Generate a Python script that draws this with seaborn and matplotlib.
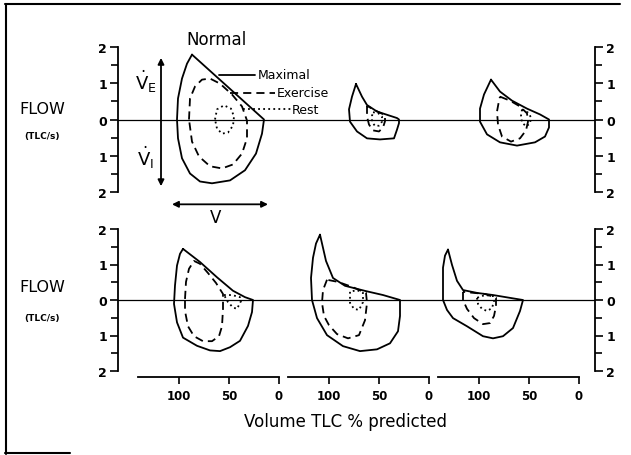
import numpy as np
import matplotlib
matplotlib.use("Agg")
import matplotlib.pyplot as plt
import seaborn as sns
from matplotlib.lines import Line2D

# ---------------- data (volume in % predicted TLC, flow in TLC/s) ----------------
y_ticks = [-2, -1, 0, 1, 2]
y_tick_labels = ["2", "1", "0", "1", "2"]
x_ticks = [100, 50, 0]
x_tick_labels = ["100", "50", "0"]
panel_offsets = [0, 150, 300]

# top row, panel 1 (Normal)
top0_max_vol = [87, 15, 17, 23, 34, 49, 67, 79, 89, 97, 101, 102, 101, 97, 92, 87]
top0_max_flow = [1.79, 0, -0.39, -0.94, -1.40, -1.68, -1.76, -1.71, -1.49, -1.07, -0.52, 0, 0.58, 1.13, 1.54, 1.79]
top0_ex_vol = [90, 89, 84, 77, 69, 59, 47, 37, 32, 32, 37, 46, 57, 69, 80, 87, 90]
top0_ex_flow = [0, 0.58, 0.91, 1.10, 1.13, 0.99, 0.69, 0.36, -0.03, -0.52, -0.94, -1.24, -1.35, -1.29, -1.02, -0.61, 0]
top0_rest_vol = [64, 62, 55, 48, 45, 46, 51, 57, 62, 64]
top0_rest_flow = [0, 0.28, 0.39, 0.30, 0.08, -0.17, -0.36, -0.39, -0.25, 0]

# top row, panel 2
top1_max_vol = [73, 67, 62, 52, 42, 32, 30, 30, 32, 35, 49, 62, 72, 79, 80, 77, 73]
top1_max_flow = [0.98, 0.63, 0.40, 0.22, 0.13, 0.04, 0, -0.10, -0.28, -0.52, -0.55, -0.52, -0.33, -0.06, 0.28, 0.63, 0.98]
top1_ex_vol = [62, 62, 60, 56, 50, 46, 44, 44, 50, 56, 62]
top1_ex_flow = [0.38, 0.08, -0.14, -0.30, -0.33, -0.22, -0.05, 0.12, 0.20, 0.28, 0.38]
top1_rest_vol = [56, 51, 47, 47, 50, 54, 57, 57, 56]
top1_rest_flow = [0.20, 0.18, 0.08, -0.06, -0.17, -0.18, -0.06, 0.10, 0.20]

# top row, panel 3
top2_max_vol = [88, 79, 67, 52, 39, 30, 30, 34, 44, 62, 79, 92, 99, 99, 95, 88]
top2_max_flow = [1.10, 0.77, 0.52, 0.30, 0.14, 0, -0.22, -0.47, -0.63, -0.72, -0.63, -0.41, -0.06, 0.30, 0.69, 1.10]
top2_ex_vol = [79, 69, 59, 52, 51, 53, 59, 68, 77, 81, 82, 80, 79]
top2_ex_flow = [0.63, 0.52, 0.36, 0.17, -0.06, -0.30, -0.52, -0.61, -0.47, -0.14, 0.22, 0.52, 0.63]
top2_rest_vol = [57, 51, 48, 49, 53, 57, 58, 57]
top2_rest_flow = [0.28, 0.19, 0.06, -0.11, -0.19, -0.08, 0.11, 0.28]

# bottom row, panel 1
bot0_max_vol = [96, 79, 62, 46, 34, 26, 27, 31, 39, 49, 59, 69, 82, 96, 102, 105, 104, 102, 99, 96]
bot0_max_flow = [1.44, 1.07, 0.64, 0.26, 0.08, 0, -0.34, -0.73, -1.15, -1.33, -1.44, -1.42, -1.29, -1.06, -0.63, -0.11, 0.41, 0.97, 1.30, 1.44]
bot0_ex_vol = [94, 93, 90, 85, 79, 71, 63, 56, 56, 57, 60, 67, 76, 85, 91, 94, 94]
bot0_ex_flow = [0.03, 0.51, 0.88, 1.10, 1.02, 0.76, 0.48, 0.17, -0.25, -0.74, -1.02, -1.16, -1.16, -1.02, -0.74, -0.31, 0.03]
bot0_rest_vol = [55, 47, 39, 38, 42, 46, 51, 55]
bot0_rest_flow = [0.14, 0.14, 0.08, -0.03, -0.25, -0.21, -0.06, 0.14]

# bottom row, panel 2
bot1_max_vol = [109, 106, 103, 96, 84, 63, 46, 29, 29, 31, 39, 52, 69, 86, 102, 112, 117, 118, 116, 113, 109]
bot1_max_flow = [1.84, 1.47, 1.10, 0.62, 0.40, 0.25, 0.14, 0, -0.45, -0.88, -1.22, -1.39, -1.44, -1.30, -0.99, -0.51, 0, 0.62, 1.19, 1.59, 1.84]
bot1_ex_vol = [102, 106, 107, 105, 100, 92, 81, 70, 64, 62, 63, 77, 91, 102]
bot1_ex_flow = [0.57, 0.28, -0.08, -0.45, -0.71, -0.96, -1.08, -0.99, -0.57, -0.08, 0.20, 0.37, 0.51, 0.57]
bot1_rest_vol = [79, 79, 75, 70, 66, 66, 72, 79]
bot1_rest_flow = [0.23, -0.08, -0.25, -0.28, -0.06, 0.20, 0.28, 0.23]

# bottom row, panel 3
bot2_max_vol = [131, 127, 122, 116, 102, 86, 69, 56, 59, 66, 76, 86, 96, 112, 126, 132, 136, 136, 136, 134, 131]
bot2_max_flow = [1.42, 0.99, 0.54, 0.28, 0.20, 0.14, 0.06, 0, -0.31, -0.79, -1.02, -1.08, -1.02, -0.74, -0.51, -0.28, 0, 0.42, 0.91, 1.25, 1.42]
bot2_ex_vol = [116, 116, 112, 105, 96, 89, 85, 83, 83, 94, 105, 116]
bot2_ex_flow = [0.23, 0, -0.25, -0.51, -0.68, -0.65, -0.45, -0.17, 0.06, 0.17, 0.20, 0.23]
bot2_rest_vol = [102, 101, 97, 92, 87, 85, 86, 94, 102]
bot2_rest_flow = [0.06, -0.11, -0.25, -0.31, -0.23, -0.03, 0.11, 0.14, 0.06]

# ---------------- figure ----------------
sns.set_theme(style="white")
plt.rcParams["font.family"] = ["DejaVu Sans"]
plt.rcParams["mathtext.fontset"] = "dejavusans"
plt.rcParams["text.color"] = "black"
plt.rcParams["axes.labelcolor"] = "black"
plt.rcParams["xtick.color"] = "black"
plt.rcParams["ytick.color"] = "black"

W, H = 631, 456
fig = plt.figure(figsize=(W / 100, H / 100), dpi=100)


def fx(px):
    return px / W


def fy(py):
    return 1 - py / H


XLIM = (-161, 316)
ax_top = fig.add_axes([fx(118), fy(193), 477 / W, 145 / H])
ax_bot = fig.add_axes([fx(118), fy(372), 477 / W, 142 / H])

DASH = (0, (4.5, 2.8))
DOT = (0, (1.0, 1.8))
styles = {
    "max": dict(linestyle="-", linewidth=1.3),
    "ex": dict(linestyle=DASH, linewidth=1.3),
    "rest": dict(linestyle=DOT, linewidth=1.3),
}

rows = [
    (ax_top, [
        [("max", top0_max_vol, top0_max_flow), ("ex", top0_ex_vol, top0_ex_flow), ("rest", top0_rest_vol, top0_rest_flow)],
        [("max", top1_max_vol, top1_max_flow), ("ex", top1_ex_vol, top1_ex_flow), ("rest", top1_rest_vol, top1_rest_flow)],
        [("max", top2_max_vol, top2_max_flow), ("ex", top2_ex_vol, top2_ex_flow), ("rest", top2_rest_vol, top2_rest_flow)],
    ]),
    (ax_bot, [
        [("max", bot0_max_vol, bot0_max_flow), ("ex", bot0_ex_vol, bot0_ex_flow), ("rest", bot0_rest_vol, bot0_rest_flow)],
        [("max", bot1_max_vol, bot1_max_flow), ("ex", bot1_ex_vol, bot1_ex_flow), ("rest", bot1_rest_vol, bot1_rest_flow)],
        [("max", bot2_max_vol, bot2_max_flow), ("ex", bot2_ex_vol, bot2_ex_flow), ("rest", bot2_rest_vol, bot2_rest_flow)],
    ]),
]

for ax, panels in rows:
    ax.axhline(0, color="black", linewidth=0.9, zorder=1)
    for k, curves in enumerate(panels):
        for kind, vol, flow in curves:
            g = panel_offsets[k] - np.asarray(vol, dtype=float)
            sns.lineplot(x=g, y=np.asarray(flow, dtype=float), sort=False, estimator=None,
                         ax=ax, color="black", zorder=3, **styles[kind])
    ax.set_xlim(*XLIM)
    ax.set_ylim(-2, 2)
    ax.set_facecolor("none")
    ax.grid(False)
    ax.set_xlabel("")
    ax.set_ylabel("")
    ax.set_xticks([])
    for s in ["top", "bottom"]:
        ax.spines[s].set_visible(False)
    for s in ["left", "right"]:
        ax.spines[s].set_visible(True)
        ax.spines[s].set_color("black")
        ax.spines[s].set_linewidth(1.3)
    ax.set_yticks(y_ticks)
    ax.set_yticklabels(y_tick_labels)
    ax.set_yticks([-1.5, -0.5, 0.5, 1.5], minor=True)
    ax.tick_params(axis="y", which="both", left=True, right=True, labelleft=True,
                   labelright=True, direction="out", color="black", width=1.2,
                   labelcolor="black")
    ax.tick_params(axis="y", which="major", length=6, pad=2, labelsize=9)
    ax.tick_params(axis="y", which="minor", length=5)
    for lab in ax.get_yticklabels():
        lab.set_fontweight("bold")

# x-axis segments
for k in range(3):
    right_px = 279 + 150 * k
    axx = fig.add_axes([fx(right_px - 141), fy(378), 141 / W, 0.002])
    axx.set_xlim(141, 0)
    axx.set_facecolor("none")
    axx.set_yticks([])
    axx.set_xticks(x_ticks)
    axx.set_xticklabels(x_tick_labels)
    for s in ["top", "left", "right"]:
        axx.spines[s].set_visible(False)
    axx.spines["bottom"].set_color("black")
    axx.spines["bottom"].set_linewidth(1.3)
    axx.tick_params(axis="x", bottom=True, direction="out", length=5, width=1.2,
                    color="black", labelcolor="black", labelsize=8.5, pad=4)
    for lab in axx.get_xticklabels():
        lab.set_fontweight("bold")

# annotations in the first panel
ax_top.plot([-60, -24], [1.24, 1.24], color="black", lw=1.3)
ax_top.text(-21, 1.24, "Maximal", va="center", ha="left", fontsize=9)
ax_top.plot([-49, -4], [0.74, 0.74], color="black", lw=1.3, linestyle=DASH)
ax_top.text(-2, 0.74, "Exercise", va="center", ha="left", fontsize=9)
ax_top.plot([-36, 12], [0.28, 0.28], color="black", lw=1.3, linestyle=DOT)
ax_top.text(13, 0.28, "Rest", va="center", ha="left", fontsize=9)

ax_top.annotate("", xy=(-118, 1.70), xytext=(-118, -1.84),
                arrowprops=dict(arrowstyle="<|-|>", color="black", lw=1.3,
                                mutation_scale=9, shrinkA=0, shrinkB=0))
ax_top.annotate("", xy=(-107, -2.34), xytext=(-11, -2.34), annotation_clip=False,
                arrowprops=dict(arrowstyle="<|-|>", color="black", lw=1.3,
                                mutation_scale=9, shrinkA=0, shrinkB=0))
ax_top.text(-63, -2.68, "V", ha="center", va="center", fontsize=12, clip_on=False)
ax_top.text(-133, 1.07, r"$\dot{\mathrm{V}}_{\mathrm{E}}$", ha="center", va="center", fontsize=13)
ax_top.text(-134, -1.02, r"$\dot{\mathrm{V}}_{\mathrm{I}}$", ha="center", va="center", fontsize=13)

fig.text(fx(217), fy(40), "Normal", ha="center", va="center", fontsize=12)

for yflow, yunit in [(109, 136), (287, 319)]:
    fig.text(fx(42), fy(yflow), "FLOW", ha="center", va="center", fontsize=11.5)
    fig.text(fx(42), fy(yunit), "(TLC/s)", ha="center", va="center", fontsize=6.5, fontweight="bold")

fig.text(fx(346), fy(422), "Volume TLC % predicted", ha="center", va="center", fontsize=12)

# outer frame (scanned figure border)
fig.add_artist(Line2D([fx(5), fx(620)], [fy(5), fy(5)], transform=fig.transFigure, color="black", lw=1.5))
fig.add_artist(Line2D([fx(6), fx(6)], [fy(5), fy(455)], transform=fig.transFigure, color="black", lw=1.5))
fig.add_artist(Line2D([fx(5), fx(70)], [fy(454), fy(454)], transform=fig.transFigure, color="black", lw=1.5))

fig.savefig("out.png", dpi=100, facecolor="white")
